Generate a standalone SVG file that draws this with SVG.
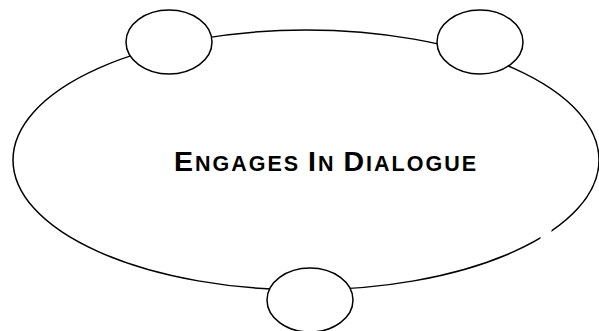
<svg xmlns="http://www.w3.org/2000/svg" width="599" height="331" viewBox="0 0 599 331">
<style>
.ln{fill:none;stroke:#000;stroke-width:1.5}
.nd{fill:#fff;stroke:#000;stroke-width:1.5}
.t{font-family:"Liberation Sans",Arial,sans-serif;font-weight:bold;fill:#000}
.b{font-size:28.5px}
.s{font-size:21.5px}
</style>
<rect width="599" height="331" fill="#fff"/>
<g id="connectors">
<ellipse class="ln" cx="306" cy="160" rx="293" ry="130"/>
<rect x="540.5" y="228" width="11" height="18" fill="#fff"/>
</g>
<g id="node-top-left"><ellipse class="nd" cx="169" cy="42" rx="43" ry="32"/></g>
<g id="node-top-right"><ellipse class="nd" cx="480" cy="42" rx="43" ry="32"/></g>
<g id="node-bottom"><ellipse class="nd" cx="310" cy="300" rx="43" ry="32"/></g>
<g id="label">
<text class="t" x="174" y="171" textLength="302" lengthAdjust="spacing"><tspan class="b">E</tspan><tspan class="s">NGAGES </tspan><tspan class="b">I</tspan><tspan class="s">N </tspan><tspan class="b">D</tspan><tspan class="s">IALOGUE</tspan></text>
</g>
</svg>
